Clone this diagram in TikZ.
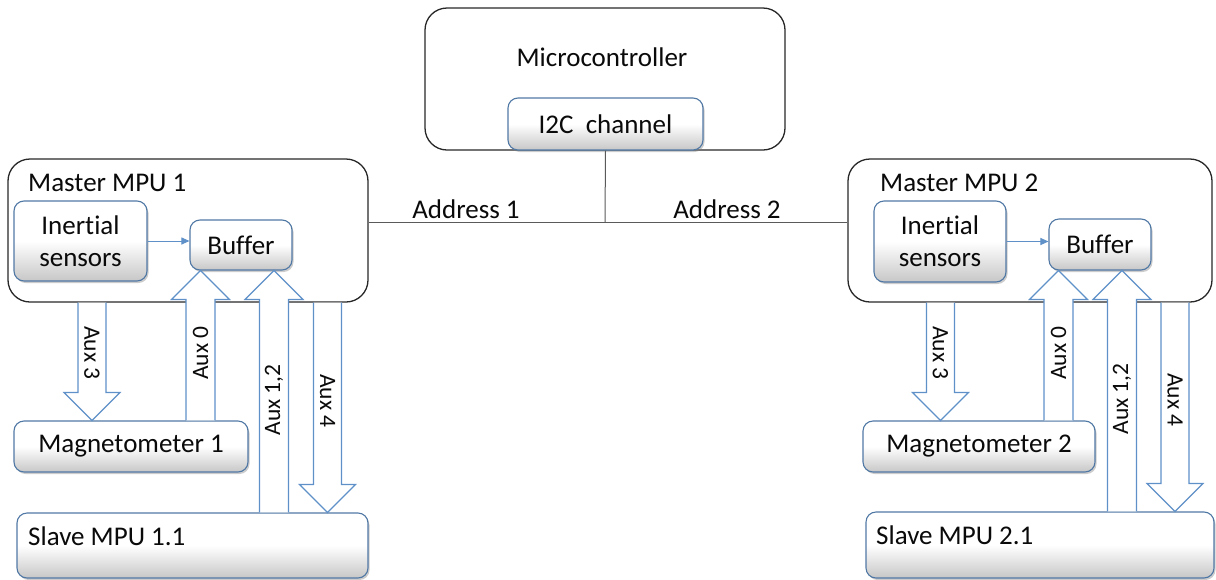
\documentclass[tikz,border=0pt]{standalone}
\usepackage{fontspec}
\setmainfont{Carlito}[Ligatures=NoCommon]
\usetikzlibrary{calc,shadows,arrows.meta}

\definecolor{arrowblue}{RGB}{95,145,200}
\definecolor{edgeblue}{RGB}{80,120,165}
\definecolor{frame}{RGB}{40,40,40}
\definecolor{busgray}{RGB}{90,90,90}
\definecolor{ink}{RGB}{10,10,10}

% hollow block arrow pointing up: #1 tail, #2 tip
\newcommand\blkup[2]{%
  \path[blk] let \p1=(#1), \p2=(#2) in
    (\x1-14.5pt,\y1) -- (\x1-14.5pt,\y2-29pt) -- (\x1-29pt,\y2-29pt) -- (\x2,\y2)
    -- (\x1+29pt,\y2-29pt) -- (\x1+14.5pt,\y2-29pt) -- (\x1+14.5pt,\y1);}
% hollow block arrow pointing down: #1 tail, #2 tip
\newcommand\blkdown[2]{%
  \path[blk] let \p1=(#1), \p2=(#2) in
    (\x1-14pt,\y1) -- (\x1-14pt,\y2+28pt) -- (\x1-28pt,\y2+28pt) -- (\x2,\y2)
    -- (\x1+28pt,\y2+28pt) -- (\x1+14pt,\y2+28pt) -- (\x1+14pt,\y1);}

\tikzset{
  txt/.style={font=\fontsize{27}{32}\selectfont, text=ink, inner sep=0pt},
  auxtxt/.style={font=\fontsize{23.5}{26}\selectfont, text=ink, inner sep=0pt},
  frame box/.style={draw=frame, line width=1.3pt, fill=white, rounded corners=22pt, inner sep=0pt},
  unit box/.style={draw=edgeblue, line width=1.1pt, rounded corners=10pt, inner sep=0pt,
    top color=white, bottom color=black!22, middle color=white,
    drop shadow={opacity=0.4, shadow xshift=1.5pt, shadow yshift=-2pt},
    font=\fontsize{27}{32}\selectfont, text=ink, align=center},
  blk/.style={draw=arrowblue, fill=white, line width=1.2pt},
  feed/.style={draw=arrowblue, line width=1pt, -{Triangle[length=8pt,width=7pt]}},
  bus/.style={draw=busgray, line width=1pt},
}

\begin{document}
\begin{tikzpicture}[x=1pt,y=-1pt]
\useasboundingbox (0,0) rectangle (1216,579);

% microcontroller and its I2C port
\node[frame box, minimum width=360pt, minimum height=142pt] (mc) at (605,79) {};
\node[txt] (mclabel) at (602,57) {Microcontroller};
\node[unit box, minimum width=195pt, minimum height=52pt] (i2c) at (605.5,124) {I2C\ \ channel};

% master boards
\node[frame box, minimum width=360pt, minimum height=143pt] (m1) at (188,230.5) {};
\node[frame box, minimum width=364pt, minimum height=143pt] (m2) at (1030,230.5) {};
\node[txt, anchor=west] (m1label) at (28,183) {Master MPU 1};
\node[txt, anchor=west] (m2label) at (880,183) {Master MPU 2};

% I2C bus
\coordinate (bus) at (605,222);
\draw[bus] (i2c.south) -- (bus);
\draw[bus] (m1.east |- bus) -- (m2.west |- bus);
\node[txt] (addr1) at (466,209) {Address 1};
\node[txt] (addr2) at (727,209) {Address 2};

% units inside the masters
\node[unit box, minimum width=133pt, minimum height=80pt] (in1) at (80.5,241) {Inertial\\sensors};
\node[unit box, minimum width=102pt, minimum height=50pt] (buf1) at (241,245) {Buffer};
\node[unit box, minimum width=132pt, minimum height=81pt] (in2) at (940,241.5) {Inertial\\sensors};
\node[unit box, minimum width=102pt, minimum height=51pt] (buf2) at (1100,244.5) {Buffer};
\draw[feed] (in1.east) -- (in1.east -| buf1.west);
\draw[feed] (in2.east) -- (in2.east -| buf2.west);

% external sensors
\node[unit box, minimum width=234pt, minimum height=51pt] (mag1) at (131,446.5) {Magnetometer 1};
\node[unit box, minimum width=232pt, minimum height=51pt] (mag2) at (979,446.5) {Magnetometer 2};
\node[unit box, minimum width=351pt, minimum height=65pt] (sl1) at (192.5,545.5) {};
\node[unit box, minimum width=348pt, minimum height=66pt] (sl2) at (1040,545) {};
\node[txt, anchor=west] (sl1label) at (28,536) {Slave MPU 1.1};
\node[txt, anchor=west] (sl2label) at (876,535) {Slave MPU 2.1};

% auxiliary links, left side
\coordinate (a3l) at (92,0);
\coordinate (a0l) at (200.5,0);
\coordinate (a12l) at (274,0);
\coordinate (a4l) at (327.5,0);
\blkdown{a3l |- m1.south}{a3l |- mag1.north}
\blkup{a0l |- mag1.north}{a0l |- buf1.south}
\blkup{a12l |- sl1.north}{a12l |- buf1.south}
\blkdown{a4l |- m1.south}{a4l |- sl1.north}
\node[auxtxt, rotate=-90] (t3l) at (92,353) {Aux 3};
\node[auxtxt, rotate=90] (t0l) at (200.5,353) {Aux 0};
\node[auxtxt, rotate=90] (t12l) at (274,400) {Aux 1,2};
\node[auxtxt, rotate=-90] (t4l) at (327.5,401) {Aux 4};

% auxiliary links, right side
\coordinate (a3r) at (940.5,0);
\coordinate (a0r) at (1058.5,0);
\coordinate (a12r) at (1122,0);
\coordinate (a4r) at (1175,0);
\blkdown{a3r |- m2.south}{a3r |- mag2.north}
\blkup{a0r |- mag2.north}{a0r |- buf2.south}
\blkup{a12r |- sl2.north}{a12r |- buf2.south}
\blkdown{a4r |- m2.south}{a4r |- sl2.north}
\node[auxtxt, rotate=-90] (t3r) at (940.5,353) {Aux 3};
\node[auxtxt, rotate=90] (t0r) at (1058.5,353) {Aux 0};
\node[auxtxt, rotate=90] (t12r) at (1122,399) {Aux 1,2};
\node[auxtxt, rotate=-90] (t4r) at (1175,400) {Aux 4};
\end{tikzpicture}
\end{document}
